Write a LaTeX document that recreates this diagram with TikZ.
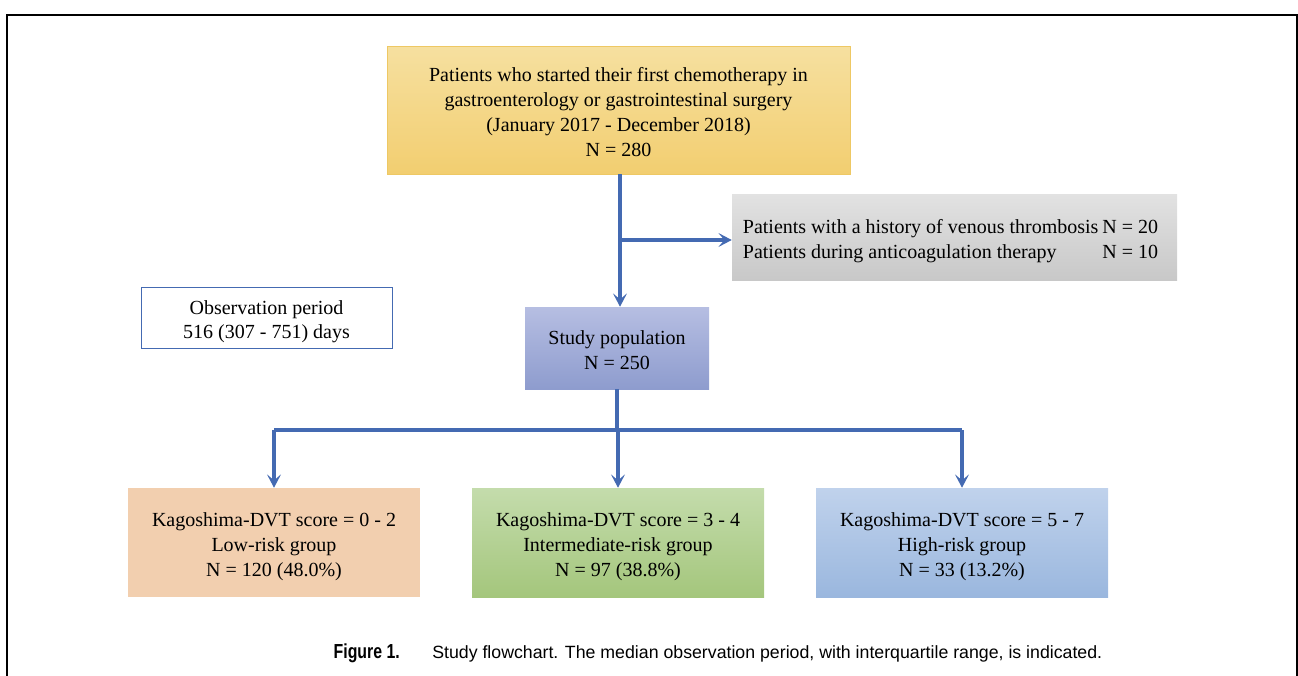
\documentclass[tikz,border=0pt]{standalone}
\usepackage{fontspec}
\setmainfont{Liberation Serif}
\newfontfamily\capfont{Liberation Sans}
\usepackage{graphicx}
\usetikzlibrary{arrows.meta}
\definecolor{arrowblue}{RGB}{68,106,178}
\definecolor{ytop}{RGB}{246,224,160}
\definecolor{ybot}{RGB}{242,206,112}
\definecolor{yline}{RGB}{238,200,100}
\definecolor{gtop}{RGB}{226,226,226}
\definecolor{gbot}{RGB}{200,200,200}
\definecolor{ptop}{RGB}{182,190,226}
\definecolor{pbot}{RGB}{142,156,206}
\definecolor{lowfill}{RGB}{242,207,175}
\definecolor{mtop}{RGB}{196,220,172}
\definecolor{mbot}{RGB}{164,198,124}
\definecolor{htop}{RGB}{192,210,236}
\definecolor{hbot}{RGB}{154,183,222}
\definecolor{obsline}{RGB}{68,106,178}
\newcommand{\lowtext}[2][c]{\raisebox{-3pt}[\height][\depth]{\begin{tabular}{@{}#1@{}}#2\end{tabular}}}
\begin{document}
\begin{tikzpicture}[x=0.75pt,y=-0.75pt,
  box/.style={rectangle, inner sep=0pt, align=center, font=\fontsize{15}{18.6}\selectfont},
  conn/.style={draw=arrowblue, line width=2.3pt},
  arr/.style={conn, -{Stealth[length=10pt,width=10.5pt,inset=4.5pt]}}]
\useasboundingbox (0,0) rectangle (1298,675);
\begin{scope}
\clip (0,0) rectangle (1298,675);
\draw[line width=1.6pt] (7,700) -- (7,15) -- (1297,15) -- (1297,700);
\end{scope}

\node[box, top color=ytop, bottom color=ybot, draw=yline, line width=0.6pt,
      minimum width=347.25pt, minimum height=96pt] (top) at (618.5,110)
  {\lowtext{Patients who started their first chemotherapy in\\
   gastroenterology or gastrointestinal surgery\\
   (January 2017 - December 2018)\\
   N = 280}};

\node[box, top color=gtop, bottom color=gbot,
      minimum width=333.75pt, minimum height=64.5pt] (excl) at (954.5,237)
  {\hspace*{-6pt}\lowtext[l@{\hspace{3pt}}r]{Patients with a history of venous thrombosis & N = 20\\
   Patients during anticoagulation therapy & N = 10}};

\node[box, fill=white, draw=obsline, line width=0.6pt,
      minimum width=188.25pt, minimum height=45.75pt] (obs) at (266.5,317.5)
  {\lowtext{Observation period\\516 (307 - 751) days}};

\node[box, top color=ptop, bottom color=pbot,
      minimum width=138pt, minimum height=61.5pt] (pop) at (617,348)
  {\lowtext{Study population\\N = 250}};

\node[box, fill=lowfill,
      minimum width=219pt, minimum height=81.75pt] (low) at (274,542.5)
  {\lowtext{Kagoshima-DVT score = 0 - 2\\Low-risk group\\N = 120 (48.0\%)}};
\node[box, top color=mtop, bottom color=mbot,
      minimum width=219pt, minimum height=81.75pt] (mid) at (618,542.5)
  {\lowtext{Kagoshima-DVT score = 3 - 4\\Intermediate-risk group\\N = 97 (38.8\%)}};
\node[box, top color=htop, bottom color=hbot,
      minimum width=219pt, minimum height=81.75pt] (high) at (962,542.5)
  {\lowtext{Kagoshima-DVT score = 5 - 7\\High-risk group\\N = 33 (13.2\%)}};

\coordinate (split) at (618,430);
\coordinate (trunk) at (620,240);

\draw[conn] (top.south -| trunk) -- (trunk);
\draw[arr] (trunk) -- (trunk |- pop.north);
\draw[arr] (trunk) -- (trunk -| excl.west);
\draw[conn] (pop.south) -- (pop.south |- split);
\draw[conn] (low.north |- split) -- (high.north |- split);
\draw[arr] (low.north |- split) -- (low.north);
\draw[arr] (mid.north |- split) -- (mid.north);
\draw[arr] (high.north |- split) -- (high.north);

\node[anchor=base east, inner sep=0pt, font=\capfont\fontsize{14.5}{16}\selectfont] (fig) at (400,658)
  {\scalebox{0.82}[1.05]{\bfseries Figure 1.}};
\node[anchor=base west, inner sep=0pt, font=\capfont\fontsize{13.3}{16}\selectfont] (cap) at (432,658)
  {Study flowchart. The median observation period, with interquartile range, is indicated.};
\end{tikzpicture}
\end{document}
